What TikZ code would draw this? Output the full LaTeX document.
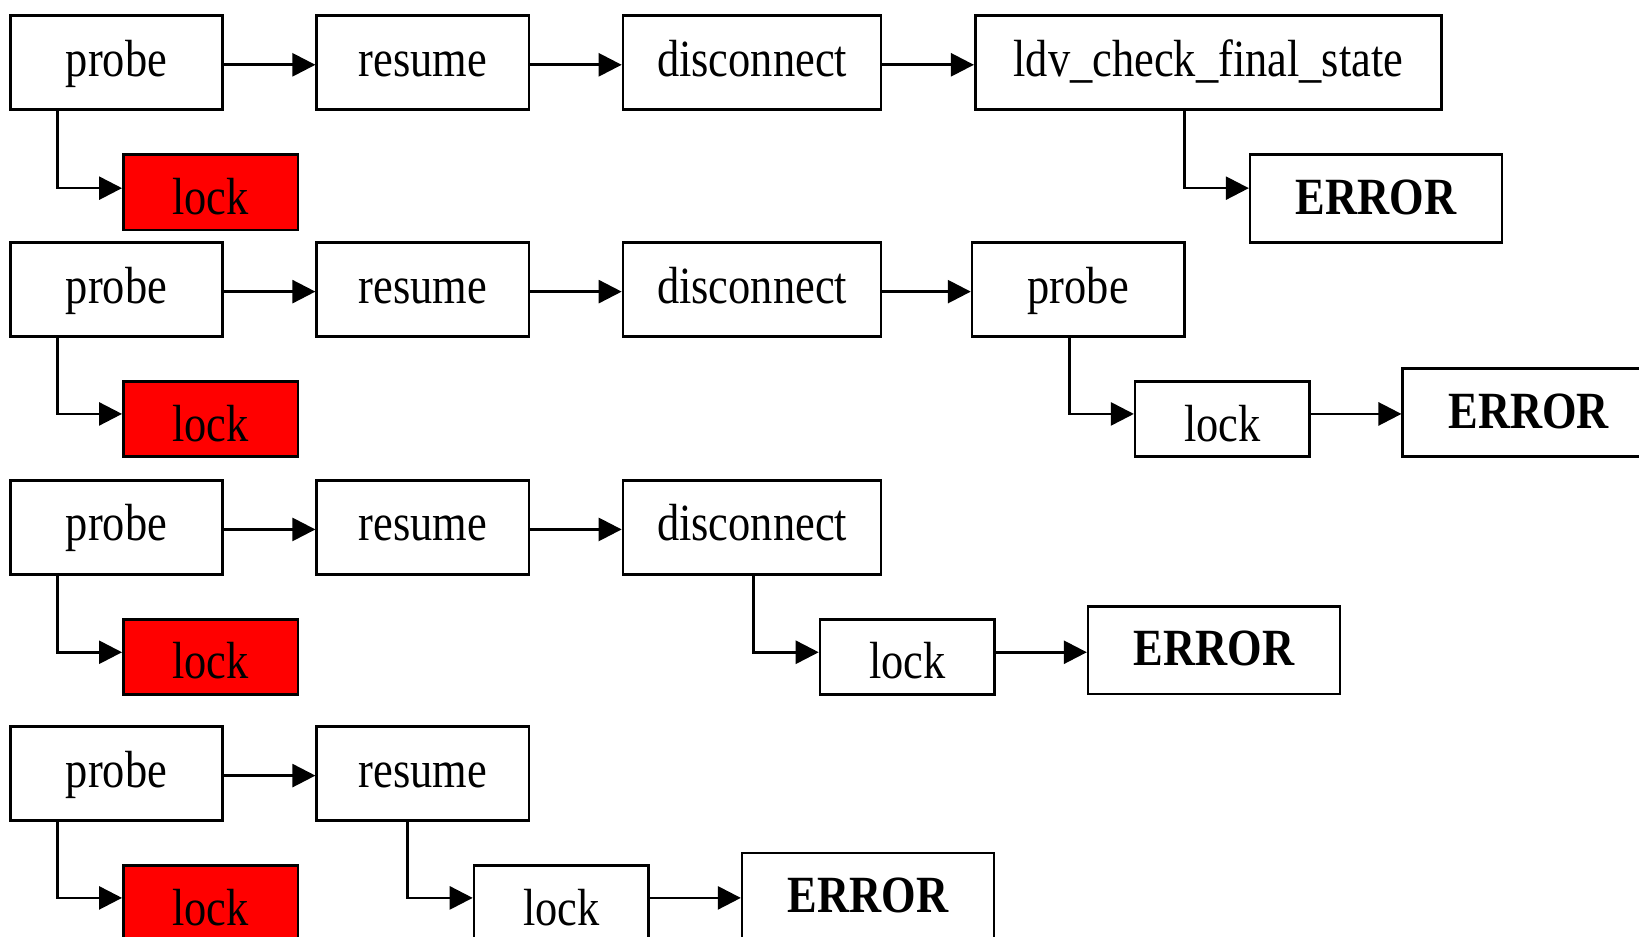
\documentclass[tikz,border=0pt]{standalone}
\usepackage{fontspec}
\setmainfont{Liberation Serif}[FakeStretch=0.85]
\usetikzlibrary{arrows.meta}
\begin{document}
\begin{tikzpicture}[x=1pt,y=-1pt,
  box/.style={draw=black,line width=2.5pt,fill=white,inner sep=0pt,
    minimum height=90pt,text height=36pt,text depth=10pt,
    font=\fontsize{50}{55}\selectfont},
  fn/.style={box,minimum width=203pt},
  lockbox/.style={box,minimum width=167pt,minimum height=72pt,text height=44pt,text depth=2pt},
  redlock/.style={lockbox,fill=red},
  errbox/.style={box,minimum width=241pt,minimum height=84pt,text height=38pt,text depth=8pt,
    font=\fontsize{50}{55}\selectfont\bfseries},
  arr/.style={line width=2.5pt,-{Triangle[length=22pt,width=22pt]}}]
\useasboundingbox (0,0) rectangle (1568,896);
% Row 1
\node[fn] (p1) at (111.5,60) {probe};
\node[fn] (r1) at (404.5,60) {resume};
\node[fn,minimum width=247pt] (d1) at (719.5,60) {disconnect};
\node[box,minimum width=446pt] (ldv) at (1156,60) {ldv\_check\_final\_state};
\node[redlock] (l1) at (201.5,184) {lock};
\node[errbox] (e1) at (1316.5,190) {ERROR};
\draw[arr] ([yshift=-2pt]p1.east) -- ([yshift=-2pt]r1.west);
\draw[arr] ([yshift=-2pt]r1.east) -- ([yshift=-2pt]d1.west);
\draw[arr] ([yshift=-2pt]d1.east) -- ([yshift=-2pt]ldv.west);
\draw[arr] ([xshift=-56.5pt]p1.south) |- ([yshift=4pt]l1.west);
\draw[arr] ([xshift=-23pt]ldv.south) |- ([yshift=10pt]e1.west);
% Row 2
\node[fn] (p2) at (111.5,277) {probe};
\node[fn] (r2) at (404.5,277) {resume};
\node[fn,minimum width=247pt] (d2) at (719.5,277) {disconnect};
\node[fn] (p2b) at (1031.5,277) {probe};
\node[redlock] (l2) at (201.5,401) {lock};
\node[lockbox] (l2b) at (1169.5,401) {lock};
\node[errbox] (e2) at (1462.5,394.5) {ERROR};
\draw[arr] ([yshift=-2pt]p2.east) -- ([yshift=-2pt]r2.west);
\draw[arr] ([yshift=-2pt]r2.east) -- ([yshift=-2pt]d2.west);
\draw[arr] ([yshift=-2pt]d2.east) -- ([yshift=-2pt]p2b.west);
\draw[arr] ([xshift=-56.5pt]p2.south) |- ([yshift=5pt]l2.west);
\draw[arr] ([xshift=-8.5pt]p2b.south) |- ([yshift=5pt]l2b.west);
\draw[arr] ([yshift=5pt]l2b.east) -- ([yshift=5pt]l2b.east -| e2.west);
% Row 3
\node[fn] (p3) at (111.5,504.5) {probe};
\node[fn] (r3) at (404.5,504.5) {resume};
\node[fn,minimum width=247pt] (d3) at (719.5,504.5) {disconnect};
\node[redlock] (l3) at (201.5,628.5) {lock};
\node[lockbox] (l3b) at (868,628.5) {lock};
\node[errbox] (e3) at (1161.5,622) {ERROR};
\draw[arr] ([yshift=-2pt]p3.east) -- ([yshift=-2pt]r3.west);
\draw[arr] ([yshift=-2pt]r3.east) -- ([yshift=-2pt]d3.west);
\draw[arr] ([xshift=1.5pt]d3.south) |- ([yshift=4.5pt]l3b.west);
\draw[arr] ([xshift=-56.5pt]p3.south) |- ([yshift=4.5pt]l3.west);
\draw[arr] ([yshift=4.5pt]l3b.east) -- ([yshift=4.5pt]l3b.east -| e3.west);
% Row 4
\node[fn] (p4) at (111.5,740) {probe};
\node[fn] (r4) at (404.5,740) {resume};
\node[redlock] (l4) at (201.5,864) {lock};
\node[lockbox] (l4b) at (537,864) {lock};
\node[errbox] (e4) at (830.5,858) {ERROR};
\draw[arr] ([yshift=-2pt]p4.east) -- ([yshift=-2pt]r4.west);
\draw[arr] ([xshift=-56.5pt]p4.south) |- ([yshift=5pt]l4.west);
\draw[arr] ([xshift=-14.5pt]r4.south) |- ([yshift=5pt]l4b.west);
\draw[arr] ([yshift=5pt]l4b.east) -- ([yshift=5pt]l4b.east -| e4.west);
\end{tikzpicture}
\end{document}
